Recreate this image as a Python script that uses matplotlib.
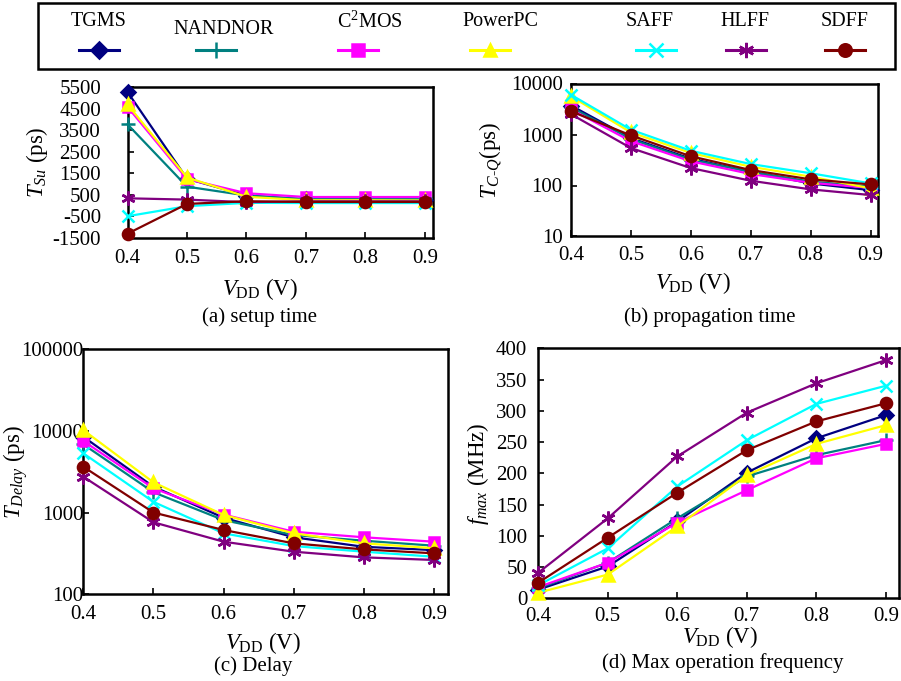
import numpy as np
import matplotlib
matplotlib.use("Agg")
import matplotlib.pyplot as plt
from matplotlib.patches import Rectangle
from matplotlib.ticker import FixedLocator, NullLocator

plt.rcParams['font.family'] = 'Liberation Serif'
plt.rcParams['mathtext.fontset'] = 'custom'
plt.rcParams['mathtext.rm'] = 'Liberation Serif'
plt.rcParams['mathtext.it'] = 'Liberation Serif:italic'
plt.rcParams['mathtext.bf'] = 'Liberation Serif:bold'

vdd = [0.4, 0.5, 0.6, 0.7, 0.8, 0.9]
names = ["TGMS", "NANDNOR", "C$^2$MOS", "PowerPC", "SAFF", "HLFF", "SDFF"]
colors = ["#000080", "#008080", "#FF00FF", "#FFFF00", "#00FFFF", "#800080", "#800000"]
markers = ["D", "+", "s", "^", "x", (6, 2, 0), "o"]
msizes = [7, 10, 7, 8, 9, 10, 8]

# rows follow the order of names
setup_ps = [
    [5270, 1250, 470, 290, 280, 280],
    [3770, 880, 470, 300, 300, 300],
    [4580, 1230, 575, 400, 400, 400],
    [4690, 1310, 410, 250, 250, 240],
    [-490, -25, 130, 120, 120, 120],
    [340, 280, 160, 200, 200, 200],
    [-1300, 80, 205, 170, 170, 170],
]
tcq_ps = [
    [3700, 850, 335, 186, 110, 81],
    [3400, 815, 320, 186, 119, 95],
    [3100, 740, 298, 168, 113, 90],
    [5600, 1100, 435, 233, 149, 88],
    [6000, 1240, 480, 263, 174, 110],
    [2500, 543, 220, 124, 84, 65],
    [2850, 960, 374, 201, 132, 105],
]
delay_ps = [
    [8450, 2070, 863, 498, 381, 347],
    [6820, 1770, 809, 531, 452, 393],
    [7500, 1980, 945, 582, 498, 440],
    [10200, 2340, 935, 557, 420, 366],
    [5300, 1350, 557, 389, 332, 288],
    [2740, 760, 440, 332, 283, 263],
    [3630, 1000, 611, 420, 354, 317],
]
fmax_mhz = [
    [14, 51, 123, 201, 256, 293],
    [16, 57, 128, 195, 229, 253],
    [18, 57, 121, 173, 224, 247],
    [9, 38, 115, 197, 247, 277],
    [21, 80, 179, 253, 311, 340],
    [41, 128, 227, 297, 344, 381],
    [25, 97, 169, 237, 283, 312],
]

W, H = 901, 681
fig = plt.figure(figsize=(W / 100, H / 100), dpi=100)


def box(l, t, r, b):
    return [l / W, 1 - b / H, (r - l) / W, (b - t) / H]


def ftext(x, y, s, **kw):
    fig.text(x / W, 1 - y / H, s, ha="center", va="center", **kw)


def panel(rect, data, xmax, ylog, ylim, yticks, ylabels, ypad, xpad, ylab, ylab_x):
    ax = fig.add_axes(rect)
    for i in range(len(names)):
        ax.plot(vdd, data[i], color=colors[i], marker=markers[i], lw=1.6,
                ms=msizes[i], mew=1.8, clip_on=False, zorder=3)
    if ylog:
        ax.set_yscale("log")
    ax.set_ylim(ylim)
    ax.set_xlim(0.4, xmax)
    ax.yaxis.set_major_locator(FixedLocator(yticks))
    ax.yaxis.set_minor_locator(NullLocator())
    ax.set_yticklabels(ylabels)
    ax.set_xticks(vdd)
    ax.set_xticklabels([str(v) for v in vdd])
    ax.tick_params(direction="in", length=4, width=1.2, labelsize=15)
    ax.tick_params(axis="y", pad=ypad)
    ax.tick_params(axis="x", pad=xpad)
    for s in ax.spines.values():
        s.set_linewidth(1.8)
    ax.set_ylabel(ylab, fontsize=16.5, labelpad=0)
    ax.yaxis.set_label_coords(ylab_x, 0.5)
    return ax


panel(box(127.5, 87, 433.3, 238), setup_ps, 0.914, False, (-1500, 5500),
      list(range(-1500, 5501, 1000)), [str(v) for v in range(-1500, 5501, 1000)],
      19, 8, r"$T_{Su}$ (ps)", -0.255)
panel(box(571, 83.5, 877.7, 236.5), tcq_ps, 0.912, True, (10, 10000),
      [10, 100, 1000, 10000], ["10", "100", "1000", "10000"],
      6, 7, r"$T_{C\text{-}Q}$(ps)", -0.22)
panel(box(83.3, 349, 448, 594.3), delay_ps, 0.92, True, (100, 100000),
      [100, 1000, 10000, 100000], ["100", "1000", "10000", "100000"],
      0, 8, r"$T_{Delay}$ (ps)", -0.145)
panel(box(538.3, 348.3, 899, 598.3), fmax_mhz, 0.919, False, (0, 400),
      list(range(0, 401, 50)), [str(v) for v in range(0, 401, 50)],
      8, 6, r"$f_{max}$ (MHz)", -0.13)

vlab = r"$V_{\mathrm{DD}}$ (V)"
ftext(260, 289, vlab, fontsize=16.5)
ftext(693, 283, vlab, fontsize=16.5)
ftext(263, 643, vlab, fontsize=16.5)
ftext(720, 637, vlab, fontsize=16.5)
ftext(260, 317, "(a) setup time", fontsize=15)
ftext(710, 317, "(b) propagation time", fontsize=15)
ftext(253, 666, "(c) Delay", fontsize=15)
ftext(723, 663, "(d) Max operation frequency", fontsize=15)

# legend box across the top
lg = fig.add_axes([0, 0, 1, 1], zorder=-1)
lg.set_xlim(0, W)
lg.set_ylim(H, 0)
lg.axis("off")
lg.add_patch(Rectangle((38, 3), 857, 66, fill=False, lw=1.8, color="black"))
leg_label_x = [99, 224, 370, 500, 650, 745, 845]
leg_label_y = [22, 29, 22, 22, 22, 22, 22]
leg_mark_x = [99, 216, 358, 490, 656, 746, 845]
for i in range(len(names)):
    lg.text(leg_label_x[i], leg_label_y[i], names[i], ha="center", va="center", fontsize=14.5)
    x0 = leg_mark_x[i]
    lg.plot([x0 - 20, x0, x0 + 20], [50, 50, 50], color=colors[i], lw=2.2,
            marker=markers[i], markevery=[1], ms=msizes[i] + 1, mew=1.8)

fig.savefig("out.png", dpi=100)
